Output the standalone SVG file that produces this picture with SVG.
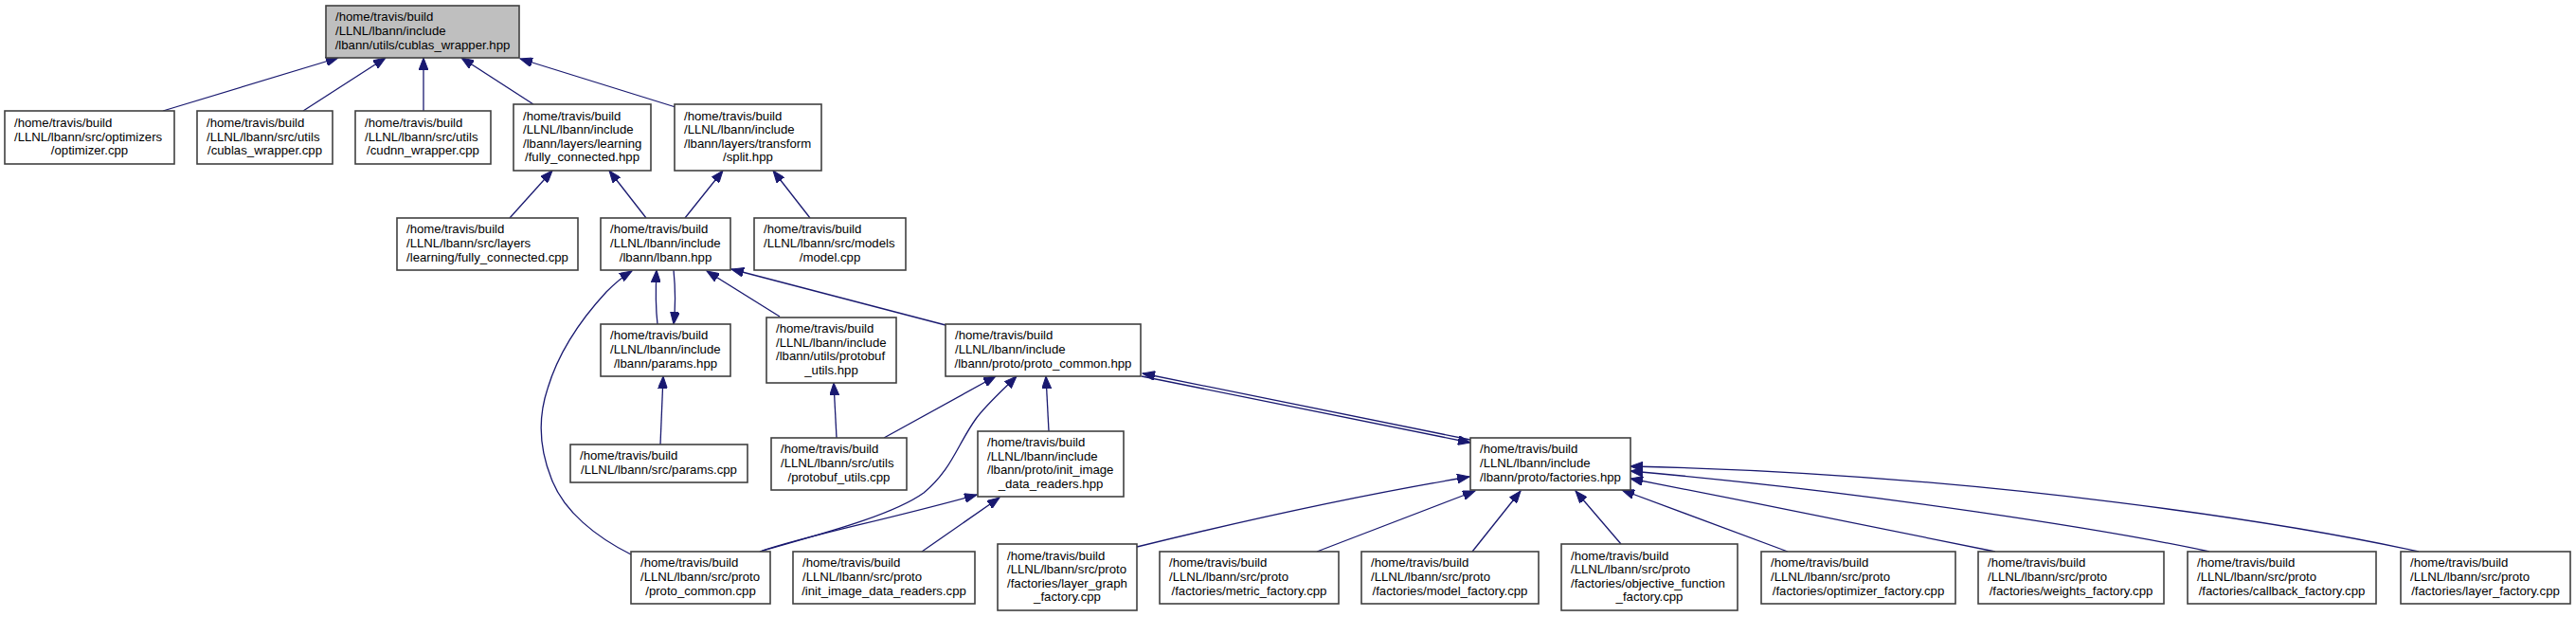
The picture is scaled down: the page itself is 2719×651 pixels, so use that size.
<svg xmlns="http://www.w3.org/2000/svg" width="2719" height="651" viewBox="0 0 2719 651">
<style>
.node rect{fill:#ffffff;stroke:#404040;stroke-width:1.6}
.root rect{fill:#bfbfbf}
text{font-family:"Liberation Sans",Arial,Helvetica,sans-serif;font-size:13.2px;fill:#000000}
.c{text-anchor:middle}
.edge{fill:none;stroke:#191970;stroke-width:1.3;marker-end:url(#ah)}
</style>
<defs>
<marker id="ah" markerUnits="userSpaceOnUse" markerWidth="14" markerHeight="10" refX="13" refY="5" orient="auto" viewBox="0 0 14 10"><path d="M0,0 L13,5 L0,10 z" fill="#191970" stroke="#191970" stroke-width="1"/></marker>
</defs>
<rect width="2719" height="651" fill="#ffffff"/>
<g id="edges">
<path class="edge" d="M172,117 L357,61"/>
<path class="edge" d="M320,117 L407,61"/>
<path class="edge" d="M447,117 L447,61"/>
<path class="edge" d="M563,110 L487,61"/>
<path class="edge" d="M713,113 L549,62"/>
<path class="edge" d="M538,230 L583,180"/>
<path class="edge" d="M682,230 L643,180"/>
<path class="edge" d="M723,230 L763,180"/>
<path class="edge" d="M855,230 L816,180"/>
<path class="edge" d="M694,342 C692,325 692,305 693,285"/>
<path class="edge" d="M711,285 C713,305 713,325 711,342"/>
<path class="edge" d="M823,334 L746,286"/>
<path class="edge" d="M998,343 L772,284"/>
<path class="edge" d="M666,585 C630,567 595,540 582,505 C568,470 568,440 578,410 C590,370 615,335 640,308 C648,300 657,292 667,286"/>
<path class="edge" d="M697,469 L700,397"/>
<path class="edge" d="M883,462 L880,404"/>
<path class="edge" d="M933,462 L1051,397"/>
<path class="edge" d="M802,582 C860,565 940,545 975,520 C1005,495 1010,470 1030,442 C1040,428 1060,410 1073,397"/>
<path class="edge" d="M802,582 C850,565 930,550 1031,522"/>
<path class="edge" d="M973,582 L1055,525"/>
<path class="edge" d="M1107,455 L1104,397"/>
<path class="edge" d="M1552,464 L1206,394"/>
<path class="edge" d="M1205,397 L1552,467"/>
<path class="edge" d="M1200,577 C1310,550 1420,525 1551,503"/>
<path class="edge" d="M1390,582 L1557,518"/>
<path class="edge" d="M1554,582 L1605,518"/>
<path class="edge" d="M1711,574 L1663,518"/>
<path class="edge" d="M1887,582 L1712,517"/>
<path class="edge" d="M2106,582 C2000,560 1850,530 1721,505"/>
<path class="edge" d="M2332,582 C2230,560 1980,520 1721,497"/>
<path class="edge" d="M2553,582 C2430,555 2100,500 1721,492"/>
</g>
<g id="n0" class="node root"><rect x="344" y="6" width="204" height="55"/><text><tspan x="354" y="22.4">/home/travis/build</tspan><tspan x="354" y="37">/LLNL/lbann/include</tspan><tspan class="c" x="446" y="51.6">/lbann/utils/cublas_wrapper.hpp</tspan></text></g>
<g id="n1" class="node"><rect x="5" y="117" width="179" height="56"/><text><tspan x="15" y="133.9">/home/travis/build</tspan><tspan x="15" y="148.5">/LLNL/lbann/src/optimizers</tspan><tspan class="c" x="94.5" y="163.1">/optimizer.cpp</tspan></text></g>
<g id="n2" class="node"><rect x="208" y="117" width="143" height="56"/><text><tspan x="218" y="133.9">/home/travis/build</tspan><tspan x="218" y="148.5">/LLNL/lbann/src/utils</tspan><tspan class="c" x="279.5" y="163.1">/cublas_wrapper.cpp</tspan></text></g>
<g id="n3" class="node"><rect x="375" y="117" width="143" height="56"/><text><tspan x="385" y="133.9">/home/travis/build</tspan><tspan x="385" y="148.5">/LLNL/lbann/src/utils</tspan><tspan class="c" x="446.5" y="163.1">/cudnn_wrapper.cpp</tspan></text></g>
<g id="n4" class="node"><rect x="542" y="110" width="145" height="70"/><text><tspan x="552" y="126.6">/home/travis/build</tspan><tspan x="552" y="141.2">/LLNL/lbann/include</tspan><tspan x="552" y="155.8">/lbann/layers/learning</tspan><tspan class="c" x="614.5" y="170.4">/fully_connected.hpp</tspan></text></g>
<g id="n5" class="node"><rect x="712" y="110" width="155" height="70"/><text><tspan x="722" y="126.6">/home/travis/build</tspan><tspan x="722" y="141.2">/LLNL/lbann/include</tspan><tspan x="722" y="155.8">/lbann/layers/transform</tspan><tspan class="c" x="789.5" y="170.4">/split.hpp</tspan></text></g>
<g id="n6" class="node"><rect x="419" y="230" width="191" height="55"/><text><tspan x="429" y="246.4">/home/travis/build</tspan><tspan x="429" y="261">/LLNL/lbann/src/layers</tspan><tspan class="c" x="514.5" y="275.6">/learning/fully_connected.cpp</tspan></text></g>
<g id="n7" class="node"><rect x="634" y="230" width="137" height="55"/><text><tspan x="644" y="246.4">/home/travis/build</tspan><tspan x="644" y="261">/LLNL/lbann/include</tspan><tspan class="c" x="702.5" y="275.6">/lbann/lbann.hpp</tspan></text></g>
<g id="n8" class="node"><rect x="796" y="230" width="160" height="55"/><text><tspan x="806" y="246.4">/home/travis/build</tspan><tspan x="806" y="261">/LLNL/lbann/src/models</tspan><tspan class="c" x="876" y="275.6">/model.cpp</tspan></text></g>
<g id="n9" class="node"><rect x="634" y="342" width="137" height="55"/><text><tspan x="644" y="358.4">/home/travis/build</tspan><tspan x="644" y="373">/LLNL/lbann/include</tspan><tspan class="c" x="702.5" y="387.6">/lbann/params.hpp</tspan></text></g>
<g id="n10" class="node"><rect x="809" y="335" width="137" height="69"/><text><tspan x="819" y="351.1">/home/travis/build</tspan><tspan x="819" y="365.7">/LLNL/lbann/include</tspan><tspan x="819" y="380.3">/lbann/utils/protobuf</tspan><tspan class="c" x="877.5" y="394.9">_utils.hpp</tspan></text></g>
<g id="n11" class="node"><rect x="998" y="342" width="206" height="55"/><text><tspan x="1008" y="358.4">/home/travis/build</tspan><tspan x="1008" y="373">/LLNL/lbann/include</tspan><tspan class="c" x="1101" y="387.6">/lbann/proto/proto_common.hpp</tspan></text></g>
<g id="n12" class="node"><rect x="602" y="469" width="187" height="40"/><text><tspan x="612" y="485.2">/home/travis/build</tspan><tspan class="c" x="695.5" y="499.8">/LLNL/lbann/src/params.cpp</tspan></text></g>
<g id="n13" class="node"><rect x="814" y="462" width="143" height="55"/><text><tspan x="824" y="478.4">/home/travis/build</tspan><tspan x="824" y="493">/LLNL/lbann/src/utils</tspan><tspan class="c" x="885.5" y="507.6">/protobuf_utils.cpp</tspan></text></g>
<g id="n14" class="node"><rect x="1032" y="455" width="154" height="69"/><text><tspan x="1042" y="471.1">/home/travis/build</tspan><tspan x="1042" y="485.7">/LLNL/lbann/include</tspan><tspan x="1042" y="500.3">/lbann/proto/init_image</tspan><tspan class="c" x="1109" y="514.9">_data_readers.hpp</tspan></text></g>
<g id="n15" class="node"><rect x="1552" y="462" width="169" height="55"/><text><tspan x="1562" y="478.4">/home/travis/build</tspan><tspan x="1562" y="493">/LLNL/lbann/include</tspan><tspan class="c" x="1636.5" y="507.6">/lbann/proto/factories.hpp</tspan></text></g>
<g id="n16" class="node"><rect x="666" y="582" width="147" height="55"/><text><tspan x="676" y="598.4">/home/travis/build</tspan><tspan x="676" y="613">/LLNL/lbann/src/proto</tspan><tspan class="c" x="739.5" y="627.6">/proto_common.cpp</tspan></text></g>
<g id="n17" class="node"><rect x="837" y="582" width="192" height="55"/><text><tspan x="847" y="598.4">/home/travis/build</tspan><tspan x="847" y="613">/LLNL/lbann/src/proto</tspan><tspan class="c" x="933" y="627.6">/init_image_data_readers.cpp</tspan></text></g>
<g id="n18" class="node"><rect x="1053" y="574" width="147" height="70"/><text><tspan x="1063" y="590.6">/home/travis/build</tspan><tspan x="1063" y="605.2">/LLNL/lbann/src/proto</tspan><tspan x="1063" y="619.8">/factories/layer_graph</tspan><tspan class="c" x="1126.5" y="634.4">_factory.cpp</tspan></text></g>
<g id="n19" class="node"><rect x="1224" y="582" width="189" height="55"/><text><tspan x="1234" y="598.4">/home/travis/build</tspan><tspan x="1234" y="613">/LLNL/lbann/src/proto</tspan><tspan class="c" x="1318.5" y="627.6">/factories/metric_factory.cpp</tspan></text></g>
<g id="n20" class="node"><rect x="1437" y="582" width="187" height="55"/><text><tspan x="1447" y="598.4">/home/travis/build</tspan><tspan x="1447" y="613">/LLNL/lbann/src/proto</tspan><tspan class="c" x="1530.5" y="627.6">/factories/model_factory.cpp</tspan></text></g>
<g id="n21" class="node"><rect x="1648" y="574" width="186" height="70"/><text><tspan x="1658" y="590.6">/home/travis/build</tspan><tspan x="1658" y="605.2">/LLNL/lbann/src/proto</tspan><tspan x="1658" y="619.8">/factories/objective_function</tspan><tspan class="c" x="1741" y="634.4">_factory.cpp</tspan></text></g>
<g id="n22" class="node"><rect x="1859" y="582" width="205" height="55"/><text><tspan x="1869" y="598.4">/home/travis/build</tspan><tspan x="1869" y="613">/LLNL/lbann/src/proto</tspan><tspan class="c" x="1961.5" y="627.6">/factories/optimizer_factory.cpp</tspan></text></g>
<g id="n23" class="node"><rect x="2088" y="582" width="196" height="55"/><text><tspan x="2098" y="598.4">/home/travis/build</tspan><tspan x="2098" y="613">/LLNL/lbann/src/proto</tspan><tspan class="c" x="2186" y="627.6">/factories/weights_factory.cpp</tspan></text></g>
<g id="n24" class="node"><rect x="2309" y="582" width="199" height="55"/><text><tspan x="2319" y="598.4">/home/travis/build</tspan><tspan x="2319" y="613">/LLNL/lbann/src/proto</tspan><tspan class="c" x="2408.5" y="627.6">/factories/callback_factory.cpp</tspan></text></g>
<g id="n25" class="node"><rect x="2534" y="582" width="179" height="55"/><text><tspan x="2544" y="598.4">/home/travis/build</tspan><tspan x="2544" y="613">/LLNL/lbann/src/proto</tspan><tspan class="c" x="2623.5" y="627.6">/factories/layer_factory.cpp</tspan></text></g>
</svg>
